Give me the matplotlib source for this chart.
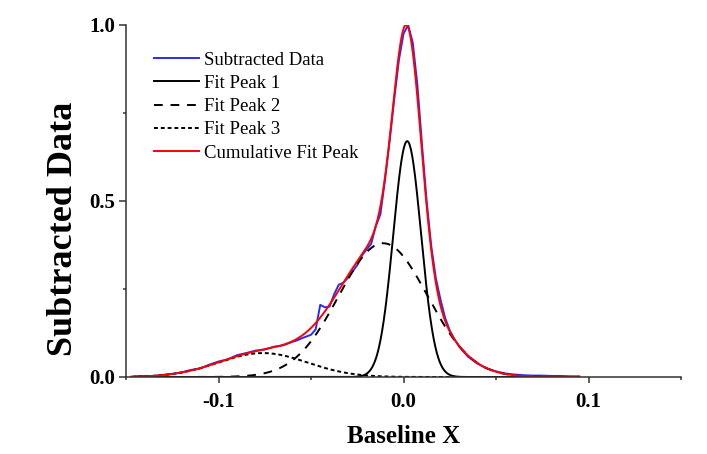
import numpy as np
import matplotlib
matplotlib.use("Agg")
import matplotlib.pyplot as plt

plt.rcParams['font.family'] = ['Liberation Serif', 'DejaVu Serif']

data_x = [-0.145, -0.140, -0.135, -0.130, -0.125, -0.120, -0.115, -0.110, -0.105, -0.100,
          -0.095, -0.090, -0.085, -0.080, -0.075, -0.070, -0.065, -0.060, -0.0575, -0.055,
          -0.0525, -0.050, -0.0475, -0.045, -0.0425, -0.040, -0.0375, -0.035, -0.0325, -0.030,
          -0.0275, -0.025, -0.0225, -0.020, -0.0175, -0.015, -0.0125, -0.010, -0.0075, -0.005,
          -0.0025, 0.0, 0.0025, 0.005, 0.0075, 0.010, 0.0125, 0.015, 0.0175, 0.020,
          0.0225, 0.025, 0.0275, 0.030, 0.035, 0.040, 0.045, 0.050, 0.055, 0.060,
          0.065, 0.070, 0.075, 0.080, 0.085, 0.090, 0.095]
data_y = [0.002, 0.003, 0.003, 0.006, 0.009, 0.013, 0.020, 0.024, 0.035, 0.044,
          0.050, 0.062, 0.068, 0.075, 0.078, 0.086, 0.090, 0.100, 0.104, 0.110,
          0.115, 0.120, 0.135, 0.205, 0.198, 0.200, 0.235, 0.262, 0.268, 0.282,
          0.300, 0.318, 0.345, 0.362, 0.378, 0.428, 0.462, 0.560, 0.670, 0.790,
          0.900, 0.975, 1.000, 0.950, 0.830, 0.660, 0.500, 0.372, 0.280, 0.220,
          0.168, 0.132, 0.108, 0.087, 0.057, 0.038, 0.024, 0.016, 0.010, 0.007,
          0.005, 0.004, 0.004, 0.003, 0.003, 0.002, 0.002]

# gaussian fit peaks: centre, height, sigma
peak_names = ['Fit Peak 1', 'Fit Peak 2', 'Fit Peak 3']
peak_centers = [0.002, -0.011, -0.076]
peak_heights = [0.67, 0.38, 0.068]
peak_widths = [0.0075, 0.024, 0.024]
fit_range = [-0.147, 0.095]

fx = np.linspace(fit_range[0], fit_range[1], 800)
peaks = [h * np.exp(-0.5 * ((fx - c) / w) ** 2)
         for c, h, w in zip(peak_centers, peak_heights, peak_widths)]
cumulative = np.sum(peaks, axis=0)

fig = plt.figure(figsize=(7.07, 4.54), dpi=100)
ax = fig.add_axes([126 / 707, 77 / 454, 555 / 707, 352 / 454])

ax.plot(data_x, data_y, color='#2a2aff', lw=1.4, label='Subtracted Data')
ax.plot(fx, peaks[0], color='black', lw=1.4, label=peak_names[0])
ax.plot(fx, peaks[1], color='black', lw=1.4, ls=(0, (4.5, 4)), label=peak_names[1])
ax.plot(fx, peaks[2], color='black', lw=1.4, ls=(0, (2, 1.5)), label=peak_names[2])
ax.plot(fx, cumulative, color='red', lw=1.4, label='Cumulative Fit Peak')

ax.set_xlim(-0.15, 0.15)
ax.set_ylim(0, 1.0)
ax.set_xticks([-0.1, 0.0, 0.1])
ax.set_xticks([-0.15, -0.05, 0.05, 0.15], minor=True)
ax.set_yticks([0.0, 0.5, 1.0])
ax.set_yticks([0.25, 0.75], minor=True)
ax.set_xticklabels(['-0.1', '0.0', '0.1'])
ax.set_yticklabels(['0.0', '0.5', '1.0'])

for s in ['top', 'right']:
    ax.spines[s].set_visible(False)
for s in ['left', 'bottom']:
    ax.spines[s].set_linewidth(1.1)
    ax.spines[s].set_color('#333333')

ax.tick_params(axis='x', which='major', length=4, width=1.1, pad=7, labelsize=15, color='#333333')
ax.tick_params(axis='y', which='major', length=5, width=1.1, pad=3, labelsize=15, color='#333333')
ax.tick_params(which='minor', length=2.5, width=1.1, color='#333333')
for lab in ax.get_xticklabels() + ax.get_yticklabels():
    lab.set_fontweight('bold')

ax.set_xlabel('Baseline X', fontsize=18, fontweight='bold', va='center')
ax.set_ylabel('Subtracted Data', fontsize=26, fontweight='bold', va='center')
ax.xaxis.set_label_coords(0.5, -0.17)
ax.yaxis.set_label_coords(-0.112, 0.42)

ax.legend(loc='upper left', bbox_to_anchor=(0.05, 0.925), frameon=False, fontsize=13.5,
          handlelength=2.4, handletextpad=0.3, labelspacing=0.33, borderpad=0, borderaxespad=0)

fig.savefig('out.png', dpi=100)
